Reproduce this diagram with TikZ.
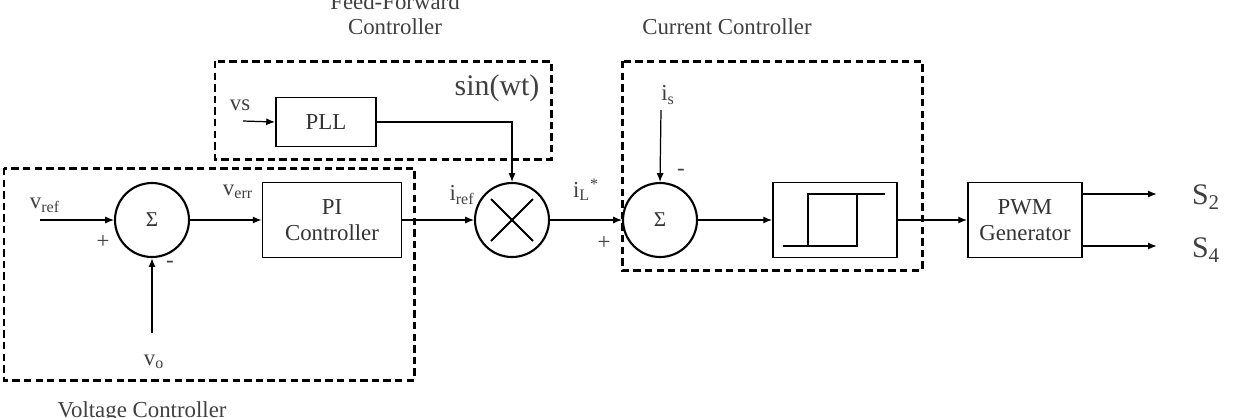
\documentclass[tikz,border=0pt]{standalone}
\usepackage{fontspec}
\setmainfont{Liberation Serif}
\usetikzlibrary{arrows.meta}

\tikzset{
  blk/.style={draw, line width=1.1pt, minimum width=2.78cm, minimum height=1.5cm,
    align=center, inner sep=0pt, font=\fontsize{13}{15}\selectfont, text=black!80},
  sumnode/.style={draw, circle, line width=1.2pt, minimum size=1.48cm, inner sep=0pt,
    font=\fontsize{12}{14}\selectfont, text=black!80},
  group/.style={draw, line width=1.7pt, dash pattern=on 4.2pt off 2.4pt},
  sig/.style={-{Latex[length=5pt,width=4pt]}, line width=0.7pt},
  lbl/.style={font=\fontsize{13}{15}\selectfont, text=black!75, inner sep=0pt},
  biglbl/.style={font=\fontsize{17}{19}\selectfont, text=black!75, inner sep=0pt},
}

\begin{document}
\begin{tikzpicture}[x=0.02cm, y=-0.02cm]
    \useasboundingbox (0,0) rectangle (1233,417);

    % dashed groups
    \draw[group] (215,61) rectangle (551,159);
    \draw[group] (4,168) rectangle (414,380);
    \draw[group] (622,61) rectangle (922,270);

    % group titles
    \node[lbl] at (395,2) {Feed-Forward};
    \node[lbl] at (395,27) {Controller};
    \node[lbl] at (727,27) {Current Controller};
    \node[lbl] at (142,412) {Voltage Controller};

    % blocks
    \node[blk, minimum width=2cm, minimum height=0.98cm] (pll) at (326,122) {PLL};
    \node[sumnode] (sum1) at (152,220) {Σ};
    \node[blk] (pi) at (332,220) {PI\\Controller};
    \node[sumnode] (mul) at (512,220) {};
    \node[sumnode] (sum2) at (660,220) {Σ};
    \node[blk, minimum width=2.48cm] (hyst) at (835,220) {};
    \node[blk, minimum width=2.28cm] (pwm) at (1025,220) {PWM\\Generator};

    % multiplier cross
    \draw[line width=1.1pt] ([shift={(-21,-21)}]mul.center) -- ([shift={(21,21)}]mul.center);
    \draw[line width=1.1pt] ([shift={(-21,21)}]mul.center) -- ([shift={(21,-21)}]mul.center);

    % hysteresis loop
    \draw[line width=1.4pt] ([shift={(-52,26)}]hyst.center) -- ([shift={(22,26)}]hyst.center)
        -- ([shift={(22,-26)}]hyst.center);
    \draw[line width=1.4pt] ([shift={(-27,26)}]hyst.center) -- ([shift={(-27,-26)}]hyst.center)
        -- ([shift={(50,-26)}]hyst.center);

    % free ends
    \coordinate (vrefin) at (40,220);
    \coordinate (voin) at (152,333);
    \coordinate (vsin) at (243,121);
    \coordinate (isin) at (661,110);
    \coordinate (s2out) at (1157,194);
    \coordinate (s4out) at (1157,246);

    % connectors
    \draw[sig] (vrefin) -- (sum1.west);
    \draw[sig, line width=1.6pt] (voin) -- (sum1.south);
    \draw[sig] (sum1.east) -- (pi.west);
    \draw[sig] (pi.east) -- (mul.west);
    \draw[sig] (vsin) -- (pll.west);
    \draw[sig] (pll.east) -| (mul.north);
    \draw[sig] (mul.east) -- (sum2.west);
    \draw[sig] (isin) -- (sum2.north);
    \draw[sig] (sum2.east) -- (hyst.west);
    \draw[sig] (hyst.east) -- (pwm.west);
    \draw[sig, line width=1.3pt] (pwm.east |- s2out) -- (s2out);
    \draw[sig, line width=1.3pt] (pwm.east |- s4out) -- (s4out);

    % signal labels
    \node[lbl] at (45,205) {v\textsubscript{ref}};
    \node[lbl] at (103,242) {+};
    \node[lbl] at (170,264) {-};
    \node[lbl] at (154,362) {v\textsubscript{o}};
    \node[lbl] at (238,192) {v\textsubscript{err}};
    \node[lbl] at (240,105) {vs};
    \node[biglbl] at (497,88) {sin(wt)};
    \node[lbl] at (462,195) {i\textsubscript{ref}};
    \node[lbl] at (586,190) {i\textsubscript{L}\textsuperscript{*}};
    \node[lbl] at (604,243) {+};
    \node[lbl] at (668,95) {i\textsubscript{s}};
    \node[lbl] at (681,172) {-};
    \node[biglbl] at (1206,197) {S\textsubscript{2}};
    \node[biglbl] at (1206,250) {S\textsubscript{4}};
\end{tikzpicture}
\end{document}
